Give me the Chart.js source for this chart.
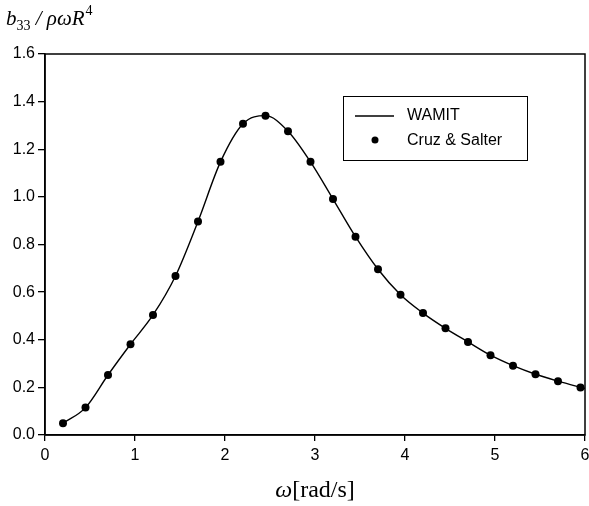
<!DOCTYPE html>
<html>
<head>
<meta charset="utf-8">
<script src="https://cdn.jsdelivr.net/npm/chart.js@4"></script>
<style>
  html, body { margin: 0; padding: 0; background: #fff; }
  #wrap { width: 589px; height: 506px; }
</style>
</head>
<body>
<div id="wrap"><canvas id="b33Chart" width="589" height="506"></canvas></div>
<script>
/* ── Data ── */
const omegaPts = [0.2, 0.45, 0.7, 0.95, 1.2, 1.45, 1.7, 1.95, 2.2, 2.45, 2.7, 2.95,
  3.2, 3.45, 3.7, 3.95, 4.2, 4.45, 4.7, 4.95, 5.2, 5.45, 5.7, 5.95];
const cruzSalter = [0.049, 0.115, 0.252, 0.381, 0.504, 0.668, 0.897, 1.147, 1.307, 1.341, 1.276, 1.147,
  0.991, 0.833, 0.696, 0.589, 0.512, 0.448, 0.391, 0.335, 0.291, 0.255, 0.226, 0.200];
const omegaWamit = [0.2, 0.45, 0.7, 0.95, 1.2, 1.45, 1.7, 1.95, 2.2, 2.45, 2.7, 2.95,
  3.2, 3.45, 3.7, 3.95, 4.2, 4.45, 4.7, 4.95, 5.2, 5.45, 5.7, 6.0];
const wamit = [0.049, 0.115, 0.252, 0.381, 0.504, 0.668, 0.897, 1.147, 1.307, 1.341, 1.276, 1.147,
  0.991, 0.833, 0.696, 0.589, 0.512, 0.448, 0.391, 0.335, 0.291, 0.255, 0.226, 0.195];
const xTicks = [0, 1, 2, 3, 4, 5, 6];
const yTicks = [0, 0.2, 0.4, 0.6, 0.8, 1.0, 1.2, 1.4, 1.6];

const SANS = "Arial, 'Liberation Sans', sans-serif";
const SERIF = "'Times New Roman', 'Liberation Serif', serif";

/* ── Frame + axis titles + legend ── */
const decorPlugin = {
  id: "decor",
  afterDraw(chart) {
    const { ctx, chartArea: a } = chart;
    ctx.save();
    ctx.strokeStyle = "#000";
    ctx.lineWidth = 1.5;
    ctx.strokeRect(a.left, a.top, a.right - a.left, a.bottom - a.top);

    // y title: b33 / ρωR^4
    ctx.fillStyle = "#000";
    ctx.textBaseline = "alphabetic";
    ctx.textAlign = "left";
    let x = 6;
    const base = 25;
    ctx.font = "italic 21px " + SERIF;
    ctx.fillText("b", x, base); x += ctx.measureText("b").width;
    ctx.font = "14px " + SERIF;
    ctx.fillText("33", x, base + 5); x += ctx.measureText("33").width;
    ctx.font = "italic 21px " + SERIF;
    ctx.fillText(" / ρωR", x, base); x += ctx.measureText(" / ρωR").width;
    ctx.font = "14px " + SERIF;
    ctx.fillText("4", x + 1, base - 10);

    // x title: ω[rad/s]
    ctx.font = "italic 24px " + SERIF;
    const w1 = ctx.measureText("ω").width;
    ctx.font = "24px " + SERIF;
    const w2 = ctx.measureText("[rad/s]").width;
    let tx = (a.left + a.right) / 2 - (w1 + w2) / 2;
    ctx.font = "italic 24px " + SERIF;
    ctx.fillText("ω", tx, 497);
    ctx.font = "24px " + SERIF;
    ctx.fillText("[rad/s]", tx + w1, 497);

    // legend box
    ctx.lineWidth = 1;
    ctx.strokeRect(343.5, 96.5, 184, 64);
    ctx.beginPath();
    ctx.moveTo(355, 116);
    ctx.lineTo(394, 116);
    ctx.lineWidth = 1.3;
    ctx.stroke();
    ctx.beginPath();
    ctx.arc(375, 140, 3.5, 0, Math.PI * 2);
    ctx.fill();
    ctx.font = "16px " + SANS;
    ctx.textBaseline = "middle";
    ctx.fillText("WAMIT", 407, 116);
    ctx.fillText("Cruz & Salter", 407, 141);
    ctx.restore();
  },
};

const ctx = document.getElementById("b33Chart").getContext("2d");
new Chart(ctx, {
  type: "line",
  data: {
    datasets: [
      {
        label: "WAMIT",
        data: omegaWamit.map((w, i) => ({ x: w, y: wamit[i] })),
        borderColor: "#000",
        borderWidth: 1.4,
        pointRadius: 0,
        cubicInterpolationMode: "monotone",
        fill: false,
      },
      {
        label: "Cruz & Salter",
        data: omegaPts.map((w, i) => ({ x: w, y: cruzSalter[i] })),
        showLine: false,
        pointRadius: 4,
        pointBackgroundColor: "#000",
        pointBorderColor: "#000",
        borderWidth: 0,
      },
    ],
  },
  options: {
    responsive: false,
    animation: false,
    layout: { padding: { top: 54, right: -2, left: 0, bottom: 0 } },
    plugins: { legend: { display: false }, tooltip: { enabled: false } },
    scales: {
      x: {
        type: "linear",
        min: 0,
        max: 6,
        afterFit: (s) => { s.height = 71; s.paddingLeft = 0; s.paddingRight = 0; },
        afterBuildTicks: (s) => { s.ticks = xTicks.map((v) => ({ value: v })); },
        grid: { drawOnChartArea: false, drawTicks: true, tickLength: 6, color: "#000", lineWidth: 1.3 },
        border: { color: "#000", width: 1.5 },
        ticks: { color: "#000", padding: 5, maxRotation: 0, font: { family: SANS, size: 16 } },
      },
      y: {
        min: 0,
        max: 1.6,
        afterFit: (s) => { s.width = 45; s.paddingTop = 0; s.paddingBottom = 0; },
        afterBuildTicks: (s) => { s.ticks = yTicks.map((v) => ({ value: v })); },
        grid: { drawOnChartArea: false, drawTicks: true, tickLength: 7, color: "#000", lineWidth: 1.3 },
        border: { color: "#000", width: 1.5 },
        ticks: { color: "#000", padding: 3, font: { family: SANS, size: 16 }, callback: (v) => v.toFixed(1) },
      },
    },
  },
  plugins: [decorPlugin],
});
</script>
</body>
</html>
